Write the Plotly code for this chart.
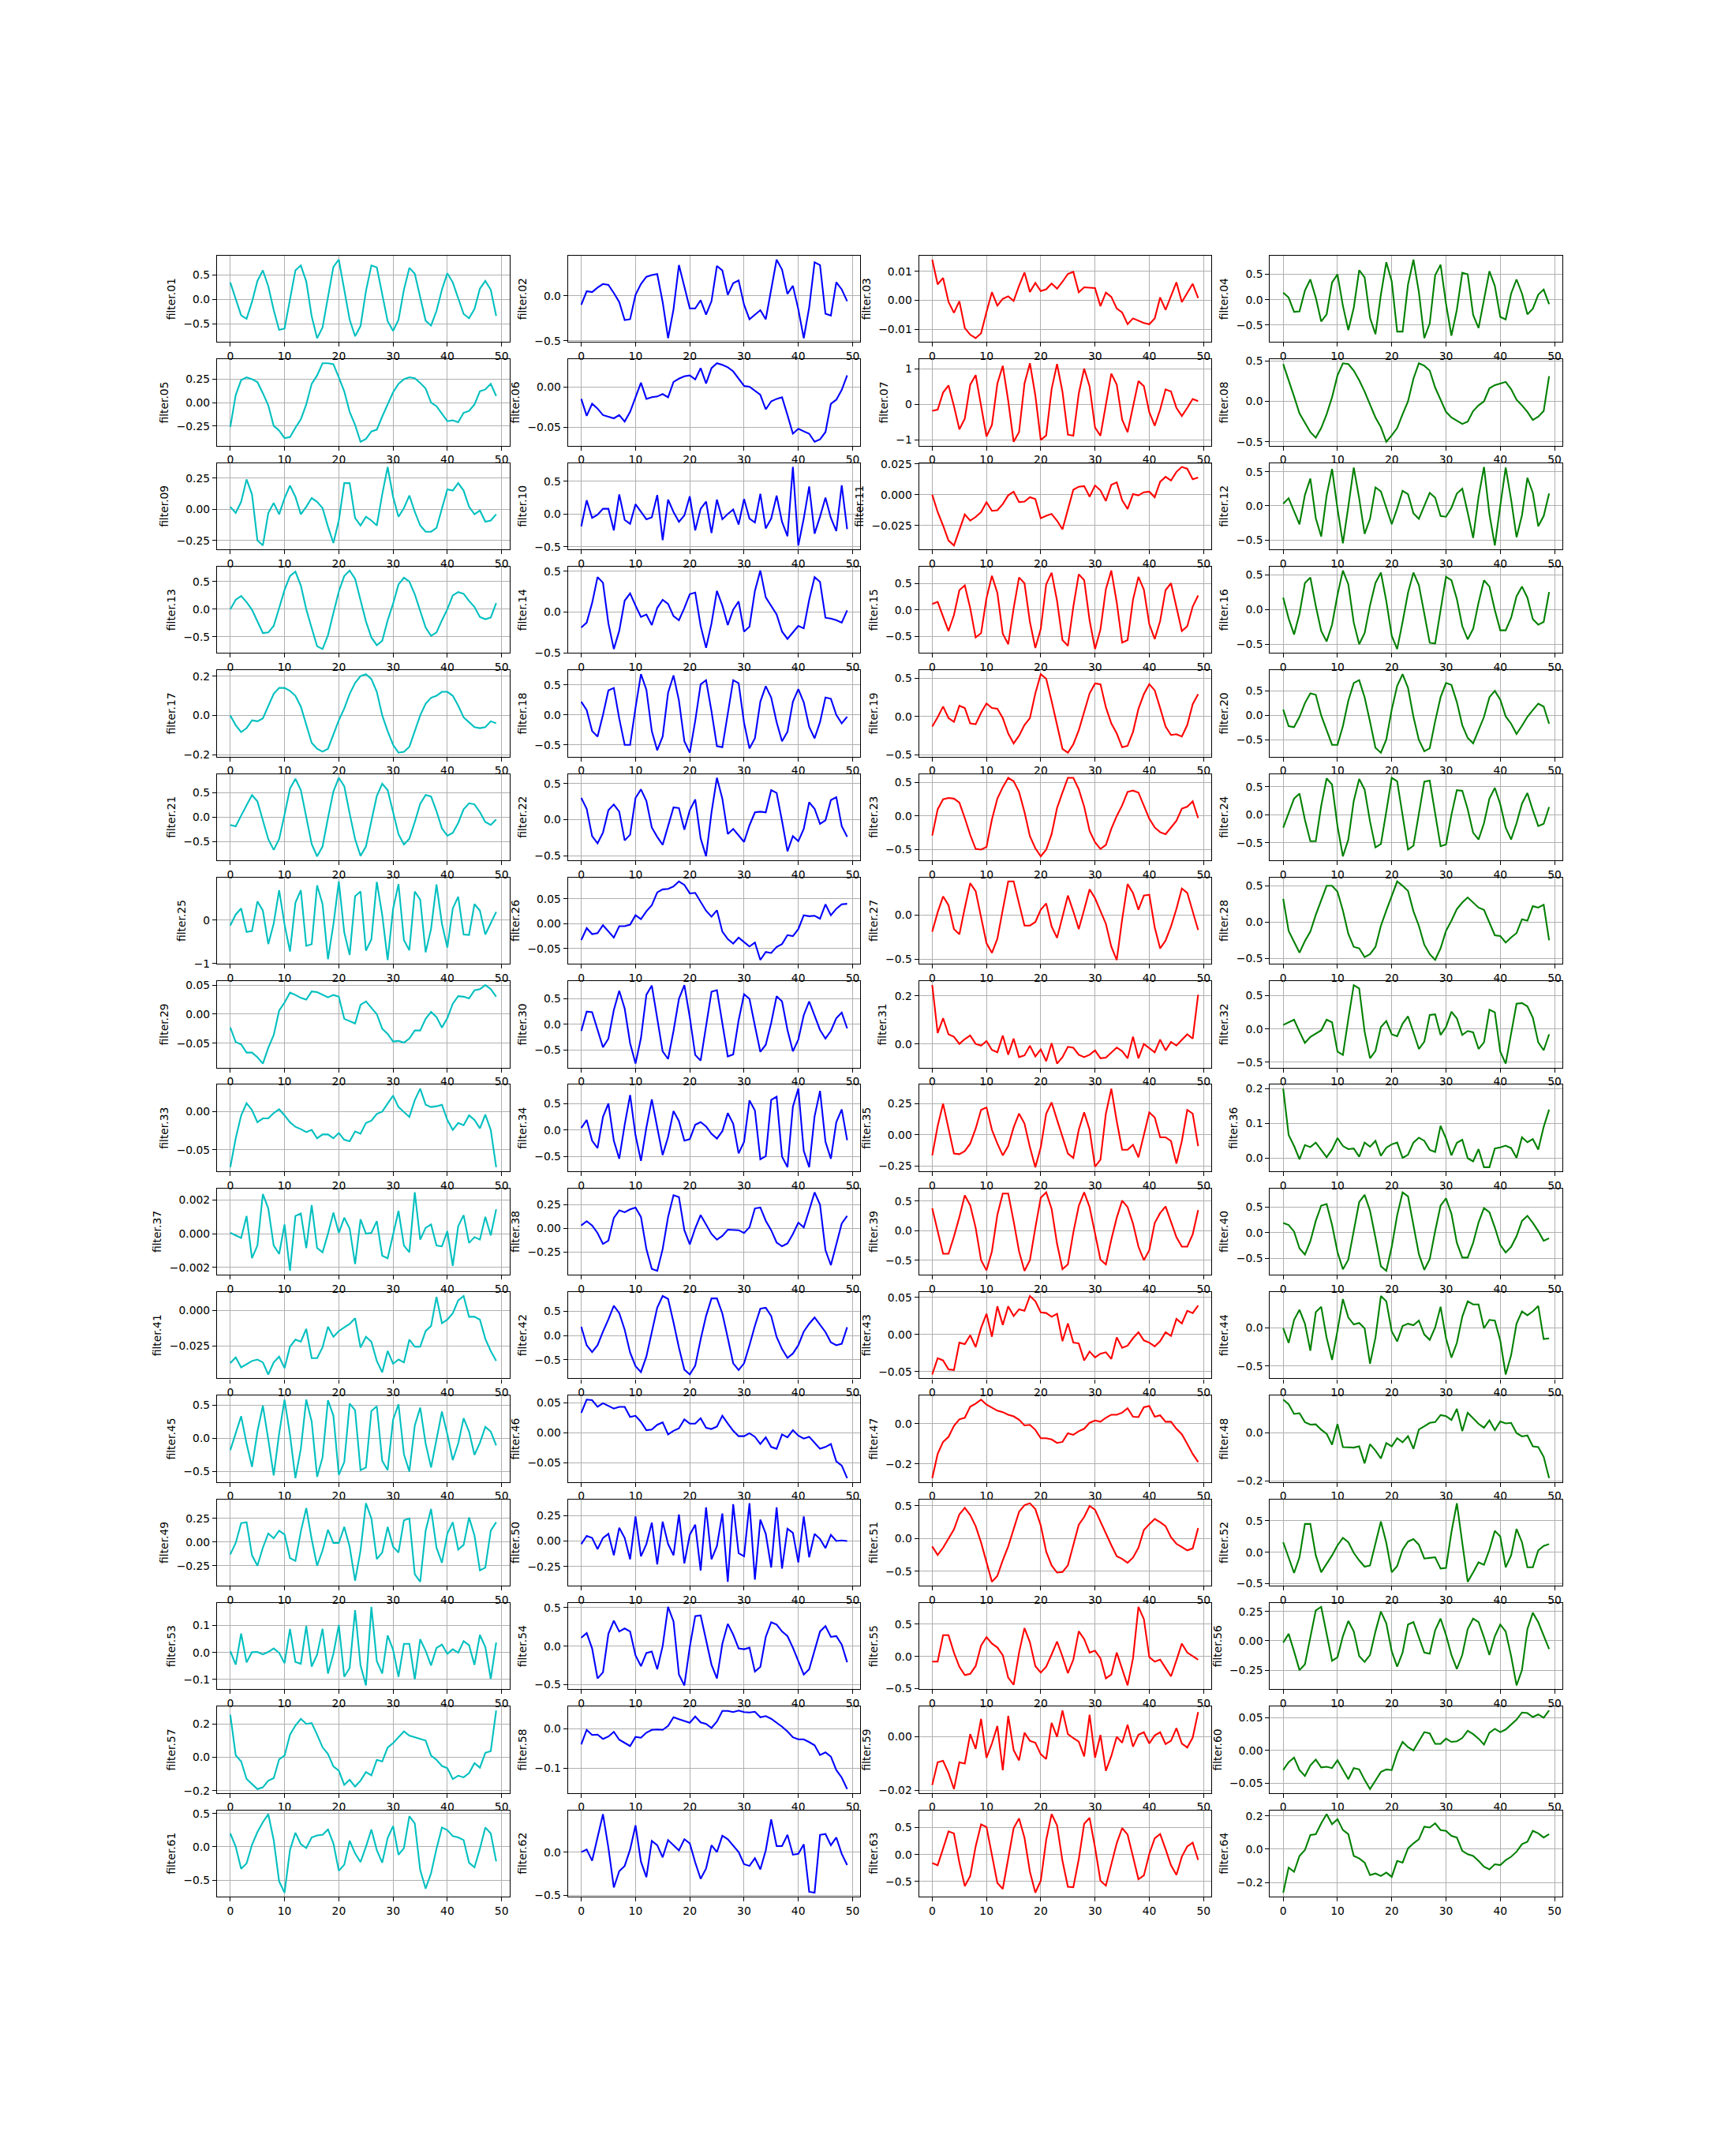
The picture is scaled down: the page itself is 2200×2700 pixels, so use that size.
import numpy as np
import plotly.graph_objects as go

# ---------------- data ----------------
f01 = [0.35, 0.0, -0.33, -0.4, -0.05, 0.38, 0.6, 0.27, -0.22, -0.63,
       -0.6, 0.0, 0.6, 0.7, 0.37, -0.35, -0.8, -0.58, 0.05, 0.67,
       0.82, 0.2, -0.42, -0.76, -0.55, 0.17, 0.7, 0.66, 0.1, -0.45,
       -0.65, -0.42, 0.2, 0.65, 0.53, 0.03, -0.44, -0.54, -0.24, 0.2,
       0.54, 0.35, 0.02, -0.3, -0.39, -0.2, 0.22, 0.38, 0.2, -0.34]
f02 = [-0.1, 0.05, 0.04, 0.09, 0.13, 0.12, 0.03, -0.07, -0.27, -0.26,
       0.01, 0.13, 0.21, 0.23, 0.24, -0.07, -0.47, -0.15, 0.34, 0.1,
       -0.14, -0.14, -0.05, -0.21, -0.06, 0.33, 0.28, 0.01, 0.14, 0.17,
       -0.1, -0.26, -0.21, -0.16, -0.26, 0.07, 0.4, 0.29, 0.02, 0.11,
       -0.15, -0.47, -0.13, 0.37, 0.34, -0.2, -0.22, 0.15, 0.07, -0.06]
f03 = [0.014, 0.0055, 0.0077, -0.0005, -0.0043, -0.0003, -0.0095, -0.0118, -0.013, -0.0113,
       -0.004, 0.0028, -0.0018, 0.0005, 0.0014, -0.0002, 0.005, 0.0096, 0.0029, 0.006,
       0.0032, 0.0038, 0.0058, 0.004, 0.0064, 0.0091, 0.0098, 0.0028, 0.0045, 0.0044,
       0.0042, -0.002, 0.0027, 0.0012, -0.0028, -0.0042, -0.0082, -0.0062, -0.0071, -0.0078,
       -0.0082, -0.0062, 0.001, -0.0033, 0.0015, 0.0062, -0.0006, 0.0025, 0.0057, 0.0008]
f04 = [0.14, 0.04, -0.24, -0.23, 0.18, 0.4, 0.04, -0.43, -0.29, 0.34,
       0.5, -0.12, -0.6, -0.16, 0.58, 0.44, -0.36, -0.68, 0.1, 0.74,
       0.36, -0.63, -0.63, 0.3, 0.79, 0.15, -0.76, -0.47, 0.48, 0.69,
       -0.08, -0.71, -0.2, 0.53, 0.5, -0.3, -0.56, 0.02, 0.56, 0.27,
       -0.34, -0.39, 0.12, 0.4, 0.12, -0.29, -0.18, 0.1, 0.2, -0.09]
f05 = [-0.26, 0.08, 0.24, 0.27, 0.25, 0.22, 0.1, -0.03, -0.25, -0.3,
       -0.38, -0.37, -0.27, -0.18, -0.02, 0.2, 0.29, 0.42, 0.42, 0.41,
       0.27, 0.12, -0.1, -0.24, -0.42, -0.39, -0.31, -0.29, -0.15, -0.02,
       0.11, 0.2, 0.25, 0.27, 0.26, 0.21, 0.15, 0.0, -0.04, -0.12,
       -0.2, -0.19, -0.21, -0.11, -0.09, -0.02, 0.12, 0.14, 0.2, 0.07]
f06 = [-0.015, -0.036, -0.021, -0.027, -0.035, -0.037, -0.039, -0.035, -0.043, -0.031,
       -0.012, 0.005, -0.015, -0.013, -0.012, -0.009, -0.013, 0.006, 0.01, 0.013,
       0.014, 0.009, 0.023, 0.004, 0.023, 0.029, 0.027, 0.024, 0.019, 0.01,
       0.001, 0.0, -0.005, -0.01, -0.028, -0.018, -0.015, -0.013, -0.035, -0.058,
       -0.052, -0.055, -0.058, -0.068, -0.065, -0.056, -0.021, -0.016, -0.004, 0.014]
f07 = [-0.18, -0.15, 0.33, 0.53, -0.05, -0.7, -0.4, 0.55, 0.82, 0.0,
       -0.9, -0.58, 0.58, 1.08, 0.1, -1.05, -0.78, 0.58, 1.15, 0.25,
       -1.0, -0.87, 0.43, 1.13, 0.35, -0.85, -0.88, 0.3, 1.0, 0.5,
       -0.65, -0.88, 0.0, 0.86, 0.55, -0.43, -0.78, -0.07, 0.65, 0.51,
       -0.22, -0.6, -0.15, 0.42, 0.36, -0.1, -0.33, -0.1, 0.15, 0.09]
f08 = [0.46, 0.27, 0.06, -0.15, -0.26, -0.38, -0.45, -0.33, -0.16, 0.05,
       0.32, 0.47, 0.46, 0.38, 0.26, 0.12, -0.04, -0.2, -0.32, -0.5,
       -0.42, -0.33, -0.16, 0.0, 0.28, 0.47, 0.44, 0.38, 0.17, 0.02,
       -0.13, -0.2, -0.24, -0.28, -0.25, -0.12, -0.05, 0.0, 0.16, 0.2,
       0.22, 0.24, 0.15, 0.02, -0.05, -0.13, -0.23, -0.19, -0.12, 0.31]
f09 = [0.02, -0.03, 0.06, 0.24, 0.12, -0.25, -0.29, -0.03, 0.05, -0.04,
       0.09, 0.19, 0.1, -0.04, 0.02, 0.09, 0.06, 0.01, -0.14, -0.27,
       -0.09, 0.21, 0.21, -0.07, -0.13, -0.06, -0.09, -0.13, 0.12, 0.34,
       0.1, -0.06, 0.01, 0.11, -0.02, -0.13, -0.18, -0.18, -0.15, 0.01,
       0.16, 0.15, 0.21, 0.15, 0.02, -0.04, -0.01, -0.1, -0.09, -0.04]
f10 = [-0.19, 0.21, -0.06, -0.01, 0.08, 0.08, -0.25, 0.3, -0.09, -0.15,
       0.15, 0.04, -0.08, -0.05, 0.29, -0.4, 0.22, 0.03, -0.12, -0.02,
       0.27, -0.25, 0.08, 0.19, -0.29, 0.22, -0.08, 0.0, 0.07, -0.16,
       0.23, -0.07, -0.13, 0.31, -0.22, -0.07, 0.28, -0.12, -0.34, 0.72,
       -0.48, -0.07, 0.42, -0.3, -0.04, 0.25, -0.06, -0.26, 0.44, -0.23]
f11 = [0.0, -0.014, -0.025, -0.037, -0.041, -0.029, -0.016, -0.021, -0.018, -0.014,
       -0.006, -0.013, -0.0125, -0.0075, -0.0005, 0.0025, -0.006, -0.0055, -0.002, -0.0035,
       -0.019, -0.017, -0.0155, -0.021, -0.028, -0.012, 0.004, 0.0065, 0.007, -0.0015,
       0.0075, 0.0035, -0.005, 0.008, 0.01, -0.0045, -0.0115, 0.0005, -0.0005, 0.002,
       0.0025, -0.002, 0.0105, 0.0145, 0.0115, 0.0185, 0.0225, 0.021, 0.0125, 0.014]
f12 = [0.03, 0.11, -0.08, -0.27, 0.16, 0.4, -0.18, -0.45, 0.15, 0.54,
       -0.04, -0.55, -0.01, 0.56, 0.11, -0.41, -0.19, 0.27, 0.21, -0.03,
       -0.27, -0.04, 0.22, 0.17, -0.11, -0.19, 0.0, 0.19, 0.12, -0.15,
       -0.16, -0.03, 0.18, 0.25, -0.1, -0.47, 0.13, 0.57, -0.12, -0.58,
       0.0, 0.56, 0.09, -0.46, -0.14, 0.41, 0.19, -0.3, -0.15, 0.18]
f13 = [0.0, 0.17, 0.24, 0.13, -0.01, -0.23, -0.43, -0.42, -0.3, 0.02,
       0.35, 0.6, 0.68, 0.43, 0.0, -0.34, -0.67, -0.72, -0.47, -0.07,
       0.32, 0.6, 0.7, 0.55, 0.17, -0.22, -0.51, -0.65, -0.57, -0.2,
       0.1, 0.45, 0.57, 0.5, 0.27, -0.02, -0.33, -0.48, -0.42, -0.2,
       0.0, 0.25, 0.31, 0.28, 0.15, 0.04, -0.14, -0.18, -0.15, 0.11]
f14 = [-0.19, -0.13, 0.11, 0.43, 0.36, -0.14, -0.455, -0.23, 0.14, 0.23,
       0.08, -0.06, -0.03, -0.16, 0.05, 0.15, 0.1, -0.05, -0.1, 0.05,
       0.22, 0.24, -0.17, -0.44, -0.14, 0.26, 0.08, -0.16, 0.03, 0.13,
       -0.24, -0.18, 0.26, 0.51, 0.18, 0.08, -0.03, -0.24, -0.33, -0.25,
       -0.17, -0.2, 0.15, 0.43, 0.37, -0.07, -0.08, -0.1, -0.13, 0.02]
f15 = [0.11, 0.15, -0.13, -0.4, -0.1, 0.37, 0.46, 0.03, -0.52, -0.44,
       0.22, 0.64, 0.32, -0.45, -0.65, 0.03, 0.61, 0.5, -0.23, -0.72,
       -0.36, 0.48, 0.7, 0.17, -0.57, -0.68, 0.06, 0.67, 0.56, -0.2,
       -0.74, -0.37, 0.39, 0.74, 0.14, -0.62, -0.57, 0.19, 0.62, 0.38,
       -0.27, -0.55, -0.21, 0.37, 0.5, 0.06, -0.4, -0.31, 0.06, 0.27]
f16 = [0.17, -0.13, -0.36, -0.06, 0.38, 0.46, 0.05, -0.31, -0.46, -0.22,
       0.21, 0.56, 0.36, -0.19, -0.5, -0.34, 0.06, 0.38, 0.53, 0.12,
       -0.38, -0.57, -0.18, 0.24, 0.53, 0.35, -0.06, -0.48, -0.49, 0.0,
       0.47, 0.42, 0.15, -0.24, -0.43, -0.28, 0.1, 0.42, 0.33, -0.01,
       -0.3, -0.3, -0.12, 0.19, 0.33, 0.17, -0.14, -0.22, -0.18, 0.25]
f17 = [0.0, -0.05, -0.085, -0.065, -0.025, -0.03, -0.015, 0.045, 0.11, 0.14,
       0.14, 0.125, 0.1, 0.045, -0.05, -0.14, -0.17, -0.185, -0.17, -0.1,
       -0.025, 0.035, 0.11, 0.165, 0.2, 0.21, 0.185, 0.12, 0.0, -0.08,
       -0.15, -0.19, -0.185, -0.16, -0.08, 0.0, 0.06, 0.09, 0.1, 0.12,
       0.12, 0.1, 0.05, -0.01, -0.035, -0.06, -0.065, -0.06, -0.03, -0.04]
f18 = [0.22, 0.08, -0.27, -0.36, 0.0, 0.41, 0.45, -0.06, -0.5, -0.5,
       0.12, 0.68, 0.42, -0.27, -0.59, -0.36, 0.37, 0.66, 0.24, -0.44,
       -0.63, -0.1, 0.51, 0.58, 0.06, -0.52, -0.54, 0.0, 0.58, 0.53,
       -0.13, -0.56, -0.39, 0.22, 0.48, 0.29, -0.12, -0.44, -0.28, 0.22,
       0.43, 0.21, -0.2, -0.39, -0.12, 0.29, 0.27, 0.0, -0.14, -0.03]
f19 = [-0.13, -0.01, 0.13, -0.02, -0.07, 0.14, 0.11, -0.09, -0.1, 0.05,
       0.17, 0.11, 0.1, -0.02, -0.22, -0.35, -0.25, -0.11, -0.02, 0.3,
       0.55, 0.49, 0.2, -0.11, -0.42, -0.47, -0.36, -0.18, 0.06, 0.3,
       0.43, 0.42, 0.12, -0.09, -0.22, -0.4, -0.38, -0.2, 0.1, 0.29,
       0.42, 0.34, 0.11, -0.13, -0.24, -0.23, -0.26, -0.11, 0.16, 0.29]
f20 = [0.12, -0.22, -0.24, -0.03, 0.25, 0.45, 0.42, 0.0, -0.3, -0.6,
       -0.6, -0.22, 0.3, 0.66, 0.72, 0.37, -0.13, -0.66, -0.76, -0.49,
       0.12, 0.6, 0.84, 0.56, -0.03, -0.5, -0.73, -0.67, -0.12, 0.37,
       0.66, 0.62, 0.27, -0.2, -0.46, -0.57, -0.3, -0.03, 0.37, 0.5,
       0.32, -0.02, -0.17, -0.38, -0.21, -0.03, 0.11, 0.24, 0.18, -0.17]
f21 = [-0.16, -0.19, 0.03, 0.25, 0.45, 0.32, -0.06, -0.45, -0.67, -0.45,
       0.05, 0.58, 0.78, 0.55, 0.0, -0.55, -0.8, -0.6, -0.02, 0.52,
       0.8, 0.63, 0.07, -0.45, -0.79, -0.6, -0.08, 0.43, 0.68, 0.55,
       0.1, -0.35, -0.56, -0.44, -0.1, 0.27, 0.45, 0.42, 0.12, -0.23,
       -0.38, -0.32, -0.12, 0.16, 0.28, 0.26, 0.1, -0.1, -0.16, -0.05]
f22 = [0.3, 0.15, -0.23, -0.33, -0.18, 0.13, 0.21, 0.11, -0.29, -0.21,
       0.3, 0.42, 0.26, -0.11, -0.24, -0.35, -0.09, 0.17, 0.16, -0.14,
       0.13, 0.28, -0.26, -0.51, 0.1, 0.58, 0.29, -0.2, -0.13, -0.22,
       -0.31, -0.08, 0.1, 0.11, 0.1, 0.41, 0.37, -0.02, -0.44, -0.23,
       -0.3, -0.13, 0.24, 0.15, -0.06, -0.01, 0.27, 0.31, -0.09, -0.24]
f23 = [-0.29, 0.1, 0.25, 0.27, 0.26, 0.2, -0.03, -0.28, -0.49, -0.5,
       -0.46, -0.05, 0.26, 0.43, 0.57, 0.52, 0.36, 0.06, -0.3, -0.48,
       -0.6, -0.5, -0.27, 0.12, 0.35, 0.57, 0.57, 0.4, 0.14, -0.22,
       -0.39, -0.49, -0.43, -0.19, 0.0, 0.16, 0.36, 0.38, 0.35, 0.15,
       -0.04, -0.17, -0.24, -0.27, -0.17, -0.07, 0.11, 0.14, 0.22, -0.03]
f24 = [-0.23, 0.02, 0.29, 0.38, -0.09, -0.47, -0.47, 0.16, 0.65, 0.54,
       -0.2, -0.74, -0.44, 0.25, 0.64, 0.45, -0.12, -0.58, -0.52, 0.06,
       0.66, 0.6, -0.04, -0.62, -0.55, 0.0, 0.59, 0.61, 0.0, -0.56,
       -0.53, 0.0, 0.44, 0.43, 0.1, -0.32, -0.44, -0.15, 0.29, 0.48,
       0.19, -0.23, -0.44, -0.15, 0.2, 0.39, 0.08, -0.2, -0.16, 0.14]
f25 = [-0.12, 0.13, 0.27, -0.27, -0.25, 0.43, 0.22, -0.55, -0.08, 0.69,
       -0.1, -0.72, 0.4, 0.69, -0.59, -0.55, 0.8, 0.37, -0.9, -0.1,
       0.89, -0.28, -0.8, 0.55, 0.66, -0.7, -0.44, 0.88, 0.12, -0.915,
       0.26, 0.83, -0.46, -0.69, 0.66, 0.47, -0.74, -0.2, 0.82, -0.08,
       -0.63, 0.27, 0.54, -0.33, -0.34, 0.37, 0.22, -0.33, -0.07, 0.19]
f26 = [-0.033, -0.009, -0.021, -0.019, -0.003, -0.015, -0.028, -0.005, -0.005, -0.002,
       0.017, 0.009, 0.025, 0.037, 0.063, 0.069, 0.07, 0.075, 0.085, 0.078,
       0.061, 0.062, 0.045, 0.026, 0.014, 0.027, -0.016, -0.031, -0.04, -0.028,
       -0.037, -0.046, -0.038, -0.073, -0.057, -0.059, -0.047, -0.041, -0.023, -0.025,
       -0.011, 0.017, 0.015, 0.016, 0.01, 0.039, 0.017, 0.03, 0.039, 0.04]
f27 = [-0.19, 0.03, 0.21, 0.11, -0.16, -0.22, 0.08, 0.36, 0.27, -0.04,
       -0.32, -0.43, -0.27, 0.06, 0.38, 0.38, 0.13, -0.12, -0.12, -0.08,
       0.06, 0.13, -0.13, -0.26, -0.02, 0.22, 0.04, -0.16, 0.06, 0.29,
       0.19, 0.05, -0.1, -0.36, -0.51, -0.05, 0.35, 0.25, 0.06, 0.22,
       0.23, -0.14, -0.38, -0.29, -0.13, 0.07, 0.3, 0.25, 0.05, -0.17]
f28 = [0.32, -0.12, -0.27, -0.42, -0.26, -0.13, 0.1, 0.31, 0.5, 0.5,
       0.42, 0.16, -0.16, -0.34, -0.36, -0.48, -0.44, -0.34, -0.05, 0.16,
       0.35, 0.56, 0.5, 0.43, 0.15, -0.05, -0.31, -0.44, -0.52, -0.36,
       -0.12, 0.02, 0.18, 0.27, 0.34, 0.27, 0.2, 0.17, 0.0, -0.18,
       -0.19, -0.28, -0.21, -0.15, 0.04, 0.02, 0.22, 0.2, 0.24, -0.25]
f29 = [-0.023, -0.048, -0.052, -0.066, -0.066, -0.074, -0.085, -0.058, -0.036, 0.006,
       0.02, 0.037, 0.033, 0.028, 0.025, 0.039, 0.038, 0.033, 0.029, 0.033,
       0.03, -0.008, -0.012, -0.016, 0.016, 0.022, 0.011, 0.0, -0.025, -0.034,
       -0.047, -0.046, -0.049, -0.042, -0.028, -0.028, -0.008, 0.004, -0.005, -0.023,
       -0.007, 0.018, 0.031, 0.03, 0.027, 0.041, 0.043, 0.05, 0.043, 0.03]
f30 = [-0.13, 0.25, 0.24, -0.1, -0.45, -0.28, 0.28, 0.66, 0.31, -0.37,
       -0.77, -0.27, 0.58, 0.76, 0.12, -0.53, -0.68, -0.13, 0.5, 0.77,
       0.14, -0.6, -0.71, -0.05, 0.64, 0.67, -0.01, -0.63, -0.59, 0.08,
       0.59, 0.5, -0.03, -0.54, -0.4, 0.03, 0.55, 0.45, -0.11, -0.53,
       -0.3, 0.18, 0.45, 0.18, -0.11, -0.28, -0.13, 0.12, 0.23, -0.08]
f31 = [0.245, 0.045, 0.107, 0.04, 0.03, 0.0, 0.02, 0.035, 0.0, -0.007,
       0.012, -0.025, -0.035, 0.035, -0.045, 0.022, -0.055, -0.048, -0.008, -0.052,
       -0.023, -0.072, 0.003, -0.082, -0.055, -0.012, -0.016, -0.045, -0.055, -0.045,
       -0.027, -0.06, -0.057, -0.037, -0.015, -0.03, -0.06, 0.03, -0.06, 0.0,
       -0.018, -0.035, 0.018, -0.027, 0.008, -0.007, 0.017, 0.04, 0.022, 0.205]
f32 = [0.06, 0.1, 0.14, -0.04, -0.21, -0.12, -0.07, -0.02, 0.14, 0.1,
       -0.34, -0.39, 0.15, 0.66, 0.61, -0.04, -0.44, -0.33, 0.03, 0.12,
       -0.08, -0.11, 0.08, 0.19, -0.05, -0.3, -0.19, 0.21, 0.22, -0.09,
       0.03, 0.26, 0.16, -0.09, -0.03, -0.05, -0.3, -0.2, 0.29, 0.25,
       -0.34, -0.52, -0.07, 0.38, 0.39, 0.34, 0.17, -0.2, -0.32, -0.08]
f33 = [-0.073, -0.035, -0.005, 0.011, 0.002, -0.014, -0.009, -0.009, -0.002, 0.003,
       -0.005, -0.014, -0.02, -0.023, -0.027, -0.024, -0.035, -0.03, -0.03, -0.035,
       -0.028, -0.037, -0.039, -0.026, -0.029, -0.015, -0.012, -0.003, 0.0, 0.011,
       0.021, 0.006, 0.0, -0.007, 0.015, 0.03, 0.009, 0.006, 0.007, 0.009,
       -0.011, -0.024, -0.015, -0.018, -0.005, -0.011, -0.022, -0.004, -0.024, -0.073]
f34 = [0.04, 0.19, -0.2, -0.34, 0.25, 0.5, -0.2, -0.54, 0.1, 0.66,
       -0.1, -0.58, 0.05, 0.58, 0.05, -0.47, -0.13, 0.36, 0.17, -0.2,
       -0.17, 0.1, 0.15, 0.07, -0.07, -0.16, -0.02, 0.32, 0.12, -0.44,
       -0.22, 0.56, 0.37, -0.55, -0.49, 0.57, 0.63, -0.5, -0.7, 0.44,
       0.78, -0.39, -0.7, 0.26, 0.74, -0.22, -0.54, 0.15, 0.39, -0.19]
f35 = [-0.165, 0.07, 0.25, 0.06, -0.15, -0.155, -0.13, -0.07, 0.05, 0.2,
       0.22, 0.04, -0.07, -0.165, -0.09, 0.06, 0.17, 0.09, -0.1, -0.26,
       -0.1, 0.17, 0.26, 0.12, -0.02, -0.15, -0.185, 0.04, 0.18, 0.04,
       -0.255, -0.2, 0.17, 0.37, 0.11, -0.12, -0.12, -0.08, -0.18, 0.0,
       0.18, 0.14, -0.02, -0.02, -0.05, -0.23, -0.05, 0.2, 0.17, -0.09]
f36 = [0.2, 0.067, 0.035, -0.003, 0.038, 0.032, 0.045, 0.025, 0.003, 0.025,
       0.058, 0.035, 0.026, 0.028, 0.004, 0.045, 0.033, 0.05, 0.007, 0.03,
       0.04, 0.045, 0.001, 0.01, 0.045, 0.059, 0.05, 0.024, 0.018, 0.093,
       0.057, 0.008, 0.044, 0.053, 0.0, -0.009, 0.026, -0.026, -0.026, 0.028,
       0.031, 0.036, 0.029, 0.001, 0.06, 0.046, 0.055, 0.025, 0.09, 0.14]
f37 = [0.00005, -0.0001, -0.00025, 0.00105, -0.00145, -0.0007, 0.00235, 0.0015, -0.0007, -0.0012,
       0.00055, -0.0022, 0.00105, 0.0012, -0.00085, 0.0017, -0.00085, -0.0011, 0.0, 0.00125,
       0.00005, 0.00095, 0.0003, -0.0018, 0.00085, 0.0, 0.00005, 0.00075, -0.0013, -0.00145,
       0.0, 0.00135, -0.0007, -0.0011, 0.00245, -0.00035, 0.00035, 0.00055, -0.0007, -0.00075,
       0.00015, -0.0019, 0.00045, 0.0011, -0.00055, -0.0002, -0.00035, 0.001, -0.0001, 0.00145]
f38 = [0.03, 0.075, 0.03, -0.05, -0.165, -0.13, 0.11, 0.19, 0.17, 0.2,
       0.22, 0.12, -0.22, -0.43, -0.45, -0.22, 0.12, 0.35, 0.33, -0.02,
       -0.17, 0.0, 0.14, 0.04, -0.06, -0.12, -0.08, -0.015, -0.015, -0.02,
       -0.05, 0.01, 0.21, 0.22, 0.08, -0.02, -0.15, -0.19, -0.16, -0.06,
       0.06, 0.01, 0.19, 0.38, 0.25, -0.23, -0.39, -0.16, 0.05, 0.13]
f39 = [0.38, 0.0, -0.39, -0.39, -0.1, 0.23, 0.6, 0.43, 0.05, -0.5,
       -0.67, -0.35, 0.27, 0.63, 0.63, 0.16, -0.35, -0.68, -0.5, 0.05,
       0.56, 0.65, 0.37, -0.22, -0.65, -0.57, -0.03, 0.42, 0.65, 0.4,
       -0.05, -0.49, -0.57, -0.15, 0.22, 0.51, 0.4, 0.12, -0.27, -0.5,
       -0.33, 0.13, 0.3, 0.41, 0.15, -0.11, -0.27, -0.27, -0.06, 0.35]
f40 = [0.19, 0.15, 0.02, -0.31, -0.43, -0.17, 0.23, 0.53, 0.56, 0.15,
       -0.38, -0.72, -0.53, 0.05, 0.6, 0.74, 0.43, -0.1, -0.66, -0.75,
       -0.28, 0.34, 0.79, 0.71, 0.15, -0.42, -0.73, -0.52, 0.03, 0.53,
       0.67, 0.37, -0.2, -0.49, -0.49, -0.2, 0.2, 0.48, 0.4, 0.1,
       -0.24, -0.39, -0.28, -0.07, 0.23, 0.33, 0.19, 0.03, -0.16, -0.11]
f41 = [-0.037, -0.033, -0.04, -0.0375, -0.0355, -0.0345, -0.0365, -0.045, -0.0365, -0.0325,
       -0.0405, -0.0255, -0.0205, -0.022, -0.013, -0.0335, -0.0335, -0.026, -0.0115, -0.0185,
       -0.0145, -0.012, -0.0095, -0.0055, -0.026, -0.0185, -0.022, -0.0355, -0.0435, -0.0285,
       -0.0375, -0.0345, -0.0365, -0.0205, -0.0255, -0.0255, -0.0145, -0.011, 0.0095, -0.009,
       -0.0065, -0.002, 0.007, 0.0101, -0.0045, -0.0045, -0.0065, -0.02, -0.0285, -0.0355]
f42 = [0.18, -0.2, -0.34, -0.2, 0.08, 0.33, 0.61, 0.46, 0.12, -0.35,
       -0.63, -0.75, -0.43, 0.07, 0.57, 0.81, 0.75, 0.27, -0.25, -0.7,
       -0.8, -0.62, -0.08, 0.4, 0.76, 0.76, 0.45, -0.05, -0.57, -0.71,
       -0.57, -0.2, 0.2, 0.55, 0.57, 0.4, -0.03, -0.28, -0.46, -0.37,
       -0.2, 0.08, 0.24, 0.37, 0.22, 0.07, -0.14, -0.2, -0.17, 0.17]
f43 = [-0.054, -0.032, -0.035, -0.047, -0.048, -0.011, -0.013, -0.001, -0.017, 0.009,
       0.028, -0.003, 0.038, 0.013, 0.038, 0.025, 0.034, 0.032, 0.052, 0.045,
       0.03, 0.029, 0.024, 0.028, -0.009, 0.015, -0.011, -0.012, -0.035, -0.023,
       -0.031, -0.026, -0.024, -0.033, -0.004, -0.018, -0.015, -0.005, 0.003, -0.008,
       -0.011, -0.016, -0.009, 0.003, -0.002, 0.021, 0.015, 0.032, 0.029, 0.039]
f44 = [-0.01, -0.2, 0.1, 0.23, 0.05, -0.3, 0.2, 0.27, -0.13, -0.42,
       -0.04, 0.37, 0.13, 0.04, 0.06, -0.01, -0.47, -0.13, 0.41, 0.34,
       -0.05, -0.18, 0.02, 0.05, 0.03, 0.09, -0.09, -0.16, 0.0, 0.27,
       -0.14, -0.39, -0.2, 0.14, 0.34, 0.3, 0.3, -0.01, 0.1, 0.09,
       -0.17, -0.61, -0.36, 0.05, 0.21, 0.16, 0.21, 0.28, -0.15, -0.14]
f45 = [-0.18, 0.08, 0.33, -0.08, -0.43, 0.1, 0.49, -0.02, -0.56, 0.07,
       0.58, 0.05, -0.6, -0.16, 0.58, 0.25, -0.58, -0.29, 0.57, 0.34,
       -0.55, -0.36, 0.52, 0.42, -0.48, -0.44, 0.41, 0.48, -0.34, -0.48,
       0.28, 0.51, -0.24, -0.5, 0.19, 0.46, -0.08, -0.44, 0.0, 0.4,
       0.06, -0.33, -0.08, 0.3, 0.1, -0.25, -0.07, 0.17, 0.1, -0.11]
f46 = [0.033, 0.055, 0.054, 0.043, 0.049, 0.045, 0.04, 0.043, 0.043, 0.026,
       0.028, 0.018, 0.004, 0.005, 0.013, 0.017, -0.003, 0.003, 0.007, 0.022,
       0.015, 0.015, 0.024, 0.008, 0.006, 0.01, 0.028, 0.015, 0.003, -0.006,
       -0.006, -0.001, -0.007, -0.019, -0.008, -0.024, -0.027, -0.003, -0.008, 0.004,
       -0.005, -0.01, -0.007, -0.017, -0.027, -0.024, -0.019, -0.048, -0.055, -0.076]
f47 = [-0.27, -0.15, -0.09, -0.065, -0.01, 0.022, 0.03, 0.085, 0.1, 0.12,
       0.095, 0.08, 0.065, 0.058, 0.045, 0.037, 0.02, -0.008, -0.005, -0.03,
       -0.072, -0.072, -0.078, -0.095, -0.09, -0.047, -0.055, -0.037, -0.025, 0.005,
       0.016, 0.01, 0.03, 0.045, 0.045, 0.055, 0.077, 0.035, 0.033, 0.082,
       0.088, 0.035, 0.042, 0.01, 0.01, -0.025, -0.052, -0.1, -0.15, -0.19]
f48 = [0.136, 0.117, 0.077, 0.08, 0.043, 0.033, 0.034, 0.012, -0.005, -0.05,
       0.035, -0.06, -0.061, -0.062, -0.057, -0.127, -0.048, -0.074, -0.107, -0.043,
       -0.057, -0.023, -0.04, -0.015, -0.067, 0.013, 0.026, 0.04, 0.043, 0.072,
       0.068, 0.052, 0.098, 0.006, 0.082, 0.058, 0.036, 0.02, 0.05, 0.01,
       0.046, 0.038, 0.04, -0.002, -0.016, -0.012, -0.057, -0.06, -0.1, -0.188]
f49 = [-0.13, -0.01, 0.2, 0.21, -0.14, -0.25, -0.06, 0.09, 0.04, 0.12,
       0.08, -0.17, -0.2, 0.11, 0.36, 0.03, -0.25, -0.09, 0.13, -0.01,
       -0.01, 0.16, -0.05, -0.41, -0.09, 0.41, 0.25, -0.18, -0.11, 0.16,
       -0.05, -0.11, 0.23, 0.25, -0.34, -0.42, 0.12, 0.35, -0.06, -0.22,
       0.09, 0.21, -0.08, -0.03, 0.26, 0.07, -0.3, -0.27, 0.12, 0.21]
f50 = [-0.03, 0.05, 0.03, -0.08, 0.03, 0.07, -0.14, 0.13, 0.03, -0.18,
       0.24, -0.15, -0.03, 0.18, -0.23, 0.19, -0.03, -0.14, 0.26, -0.22,
       0.06, 0.16, -0.29, 0.33, -0.18, -0.05, 0.27, -0.4, 0.36, -0.12,
       -0.15, 0.37, -0.38, 0.21, 0.07, -0.26, 0.33, -0.27, 0.12, 0.08,
       -0.21, 0.24, -0.16, 0.07, 0.02, -0.07, 0.06, 0.0, 0.005, 0.0]
f51 = [-0.12, -0.25, -0.14, 0.0, 0.14, 0.37, 0.47, 0.36, 0.19, -0.06,
       -0.35, -0.66, -0.57, -0.33, -0.12, 0.15, 0.41, 0.51, 0.54, 0.45,
       0.2, -0.2, -0.41, -0.52, -0.51, -0.41, -0.1, 0.21, 0.33, 0.5,
       0.44, 0.26, 0.06, -0.1, -0.27, -0.31, -0.37, -0.29, -0.14, 0.13,
       0.22, 0.3, 0.25, 0.19, 0.02, -0.08, -0.13, -0.18, -0.15, 0.16]
f52 = [0.16, -0.09, -0.33, -0.08, 0.45, 0.45, -0.05, -0.32, -0.19, -0.05,
       0.11, 0.23, 0.16, -0.01, -0.13, -0.23, -0.21, 0.13, 0.49, 0.15,
       -0.32, -0.22, 0.04, 0.17, 0.21, 0.12, -0.1, -0.09, -0.08, -0.26,
       -0.25, 0.32, 0.78, 0.15, -0.47, -0.32, -0.16, -0.2, 0.04, 0.34,
       0.25, -0.24, -0.05, 0.37, 0.16, -0.24, -0.24, 0.03, 0.1, 0.13]
f53 = [0.005, -0.045, 0.07, -0.037, 0.001, 0.002, -0.007, 0.002, 0.015, -0.001,
       -0.04, 0.087, -0.035, -0.042, 0.098, -0.052, -0.008, 0.088, -0.078, -0.005,
       0.102, -0.09, -0.057, 0.157, -0.048, -0.122, 0.169, -0.032, -0.078, 0.063,
       0.01, -0.09, 0.032, 0.032, -0.1, 0.049, 0.006, -0.048, 0.017, 0.029,
       -0.005, 0.012, -0.001, 0.042, 0.027, -0.046, 0.065, 0.02, -0.098, 0.037]
f54 = [0.11, 0.17, -0.03, -0.42, -0.34, 0.16, 0.33, 0.19, 0.23, 0.19,
       -0.12, -0.26, -0.09, -0.07, -0.3, 0.0, 0.51, 0.32, -0.37, -0.51,
       -0.01, 0.39, 0.4, 0.08, -0.24, -0.42, 0.03, 0.29, 0.15, -0.03,
       -0.04, -0.02, -0.33, -0.27, 0.12, 0.31, 0.28, 0.19, 0.13, -0.02,
       -0.2, -0.37, -0.3, -0.05, 0.19, 0.26, 0.12, 0.13, 0.02, -0.21]
f55 = [-0.08, -0.08, 0.33, 0.33, 0.06, -0.16, -0.29, -0.27, -0.15, 0.17,
       0.3, 0.2, 0.14, 0.02, -0.33, -0.44, 0.06, 0.44, 0.22, -0.15,
       -0.25, -0.16, 0.03, 0.23, 0.0, -0.26, -0.05, 0.39, 0.27, 0.06,
       0.09, -0.03, -0.34, -0.28, 0.06, -0.19, -0.45, -0.03, 0.77, 0.58,
       -0.01, -0.08, -0.05, -0.18, -0.31, -0.06, 0.2, 0.06, 0.0, -0.05]
f56 = [-0.015, 0.06, -0.09, -0.25, -0.2, 0.03, 0.26, 0.29, 0.06, -0.17,
       -0.14, 0.04, 0.17, 0.08, -0.13, -0.18, -0.12, 0.08, 0.25, 0.15,
       -0.09, -0.22, -0.1, 0.14, 0.16, 0.03, -0.1, -0.11, 0.09, 0.19,
       0.05, -0.12, -0.24, -0.12, 0.1, 0.19, 0.16, 0.03, -0.12, 0.04,
       0.14, 0.08, -0.13, -0.38, -0.25, 0.1, 0.24, 0.16, 0.05, -0.07]
f57 = [0.255, 0.012, -0.025, -0.13, -0.16, -0.19, -0.18, -0.14, -0.125, -0.012,
       0.01, 0.135, 0.19, 0.23, 0.2, 0.205, 0.135, 0.06, 0.02, -0.055,
       -0.08, -0.165, -0.135, -0.175, -0.14, -0.088, -0.108, -0.015, -0.025, 0.058,
       0.085, 0.12, 0.155, 0.13, 0.12, 0.11, 0.1, 0.01, -0.015, -0.052,
       -0.065, -0.13, -0.11, -0.12, -0.095, -0.035, -0.062, 0.027, 0.037, 0.28]
f58 = [-0.04, -0.003, -0.016, -0.015, -0.026, -0.02, -0.008, -0.028, -0.036, -0.044,
       -0.021, -0.023, -0.01, -0.003, -0.002, -0.003, 0.007, 0.029, 0.024, 0.019,
       0.015, 0.031, 0.016, 0.012, 0.002, 0.018, 0.045, 0.045, 0.042, 0.046,
       0.042, 0.041, 0.043, 0.029, 0.032, 0.025, 0.015, 0.005, -0.007, -0.022,
       -0.027, -0.027, -0.034, -0.042, -0.067, -0.06, -0.071, -0.105, -0.124, -0.153]
f59 = [-0.018, -0.0095, -0.009, -0.0135, -0.0195, -0.0095, -0.01, 0.001, -0.0045, 0.0067,
       -0.0078, -0.0025, 0.004, -0.0125, 0.0078, -0.005, -0.0088, 0.0015, -0.0015, -0.0022,
       -0.0065, -0.0083, 0.0052, 0.0, 0.0098, 0.001, -0.0005, -0.0018, -0.0073, 0.0082,
       -0.0078, 0.0007, -0.0127, -0.0072, 0.0, -0.0022, 0.0045, -0.0037, 0.0007, 0.0017,
       -0.0025, 0.0005, 0.0017, -0.0027, -0.0015, 0.0032, -0.0025, -0.004, -0.0003, 0.0092]
f60 = [-0.03, -0.018, -0.011, -0.03, -0.039, -0.023, -0.014, -0.026, -0.025, -0.027,
       -0.015, -0.029, -0.044, -0.027, -0.029, -0.045, -0.059, -0.046, -0.033, -0.029,
       -0.03, -0.004, 0.013, 0.005, 0.0, 0.014, 0.028, 0.026, 0.01, 0.01,
       0.018, 0.013, 0.014, 0.019, 0.03, 0.025, 0.018, 0.009, 0.027, 0.033,
       0.028, 0.032, 0.04, 0.047, 0.058, 0.057, 0.051, 0.055, 0.05, 0.061]
f61 = [0.2, 0.0, -0.33, -0.25, 0.03, 0.22, 0.37, 0.49, 0.1, -0.52,
       -0.69, -0.05, 0.21, 0.04, -0.02, 0.14, 0.17, 0.18, 0.26, 0.05,
       -0.36, -0.27, 0.09, -0.1, -0.23, 0.0, 0.26, -0.05, -0.24, 0.13,
       0.31, -0.12, -0.02, 0.46, 0.35, -0.35, -0.63, -0.4, -0.03, 0.29,
       0.25, 0.16, 0.14, 0.1, -0.24, -0.31, -0.03, 0.29, 0.2, -0.22]
f62 = [0.0, 0.03, -0.1, 0.17, 0.44, 0.05, -0.41, -0.22, -0.16, 0.03,
       0.31, -0.11, -0.29, 0.13, 0.08, -0.06, 0.14, 0.08, 0.02, 0.15,
       0.1, -0.12, -0.31, -0.19, 0.08, 0.0, 0.19, 0.15, 0.07, 0.0,
       -0.14, -0.16, -0.07, -0.2, 0.02, 0.38, 0.07, 0.07, 0.2, -0.03,
       -0.02, 0.09, -0.46, -0.47, 0.2, 0.21, 0.08, 0.17, -0.02, -0.15]
f63 = [-0.16, -0.2, 0.11, 0.43, 0.39, -0.15, -0.59, -0.4, 0.15, 0.56,
       0.51, 0.0, -0.53, -0.64, -0.1, 0.49, 0.67, 0.31, -0.32, -0.71,
       -0.49, 0.27, 0.75, 0.54, -0.12, -0.6, -0.61, -0.09, 0.57, 0.68,
       0.13, -0.49, -0.58, -0.2, 0.21, 0.49, 0.37, -0.04, -0.46, -0.39,
       0.01, 0.3, 0.38, 0.1, -0.2, -0.38, -0.04, 0.15, 0.22, -0.1]
f64 = [-0.26, -0.11, -0.135, -0.04, -0.005, 0.085, 0.09, 0.155, 0.21, 0.15,
       0.18, 0.115, 0.09, -0.04, -0.055, -0.08, -0.155, -0.145, -0.16, -0.14,
       -0.165, -0.07, -0.08, 0.005, 0.035, 0.06, 0.135, 0.13, 0.155, 0.115,
       0.11, 0.08, 0.07, -0.01, -0.03, -0.04, -0.07, -0.105, -0.12, -0.09,
       -0.095, -0.065, -0.045, -0.015, 0.03, 0.045, 0.11, 0.095, 0.07, 0.09]

series = [f01, f02, f03, f04, f05, f06, f07, f08, f09, f10, f11, f12, f13, f14, f15, f16,
          f17, f18, f19, f20, f21, f22, f23, f24, f25, f26, f27, f28, f29, f30, f31, f32,
          f33, f34, f35, f36, f37, f38, f39, f40, f41, f42, f43, f44, f45, f46, f47, f48,
          f49, f50, f51, f52, f53, f54, f55, f56, f57, f58, f59, f60, f61, f62, f63, f64]
labels = ["filter.%02d" % (i + 1) for i in range(len(series))]
column_colors = ["#00bfbf", "#0000ff", "#ff0000", "#008000"]  # c, b, r, g

# ---------------- layout (matplotlib subplot defaults) ----------------
W, H = 2200, 2700
NROWS, NCOLS = 16, 4
LEFT, RIGHT, BOTTOM, TOP = 0.125, 0.9, 0.11, 0.88
WSPACE = HSPACE = 0.2
AXW = (RIGHT - LEFT) / (NCOLS + (NCOLS - 1) * WSPACE)
AXH = (TOP - BOTTOM) / (NROWS + (NROWS - 1) * HSPACE)
FONT = "DejaVu Sans"
FS = 13.89  # 10 pt at 100 dpi


def mpl_ticks(vmin, vmax, nbins):
    steps = np.array([1, 2, 2.5, 5, 10])
    ext = np.concatenate([0.1 * steps[:-1], steps, [10 * steps[1]]])
    dv = vmax - vmin
    scale = 10 ** np.floor(np.log10(dv / nbins))
    ss = ext * scale
    raw = dv / nbins
    istep = np.nonzero(ss >= raw)[0][0]
    ticks = None
    for step in ss[:istep + 1][::-1]:
        best = (vmin // step) * step
        d, m = divmod(vmin - best, step)
        low = d + 1 if abs(m / step - 1) < 1e-10 else d
        d, m = divmod(vmax - best, step)
        high = d if abs(m / step) < 1e-10 else d + 1
        ticks = np.arange(low, high + 1) * step + best
        n = ((ticks <= vmax) & (ticks >= vmin)).sum()
        if n >= 2:
            break
    return ticks


def mpl_format(ticks):
    locs = np.asarray(ticks, dtype=float)
    rng = np.ptp(locs) or 1.0
    oom = int(np.floor(np.log10(rng)))
    sig = max(0, 3 - oom)
    thresh = 1e-3 * 10 ** oom
    while sig >= 0:
        if np.abs(locs - np.round(locs, sig)).max() < thresh:
            sig -= 1
        else:
            break
    sig += 1
    out = []
    for t in locs:
        s = "%.*f" % (sig, t)
        if float(s) == 0:
            s = s.lstrip("-")
        out.append(s.replace("-", "\u2212"))
    return out


def visible(ticks, texts, lo, hi):
    tol = 1e-10 * (hi - lo)
    keep = [(t, s) for t, s in zip(ticks, texts) if lo - tol <= t <= hi + tol]
    return [k[0] for k in keep], [k[1] for k in keep]


axis_common = dict(
    ticks="outside", ticklen=5, tickwidth=1.1, tickcolor="black",
    showgrid=True, gridcolor="#b0b0b0", gridwidth=1.1,
    showline=True, mirror=True, linecolor="black", linewidth=1.1,
    zeroline=False, automargin=False, fixedrange=True,
    tickfont=dict(family=FONT, size=FS, color="black"),
)

fig = go.Figure()
layout = {}
for i, y in enumerate(series):
    r, c = divmod(i, NCOLS)
    k = i + 1
    sfx = "" if k == 1 else str(k)
    xs = list(range(len(y)))
    fig.add_trace(go.Scatter(
        x=xs, y=y, mode="lines",
        line=dict(color=column_colors[c], width=2.08),
        xaxis="x" + sfx, yaxis="y" + sfx, showlegend=False, hoverinfo="skip",
    ))
    x0 = LEFT + c * AXW * (1 + WSPACE)
    ytop = TOP - r * AXH * (1 + HSPACE)

    xmin, xmax = min(xs), max(xs)
    xpad = 0.05 * (xmax - xmin)
    xlo, xhi = xmin - xpad, xmax + xpad
    xt_all = mpl_ticks(xlo, xhi, 8)
    xt, xtt = visible(xt_all, mpl_format(xt_all), xlo, xhi)

    ymin, ymax = min(y), max(y)
    ypad = 0.05 * (ymax - ymin)
    ylo, yhi = ymin - ypad, ymax + ypad
    yt_all = mpl_ticks(ylo, yhi, 3)
    yt, ytt = visible(yt_all, mpl_format(yt_all), ylo, yhi)

    layout["xaxis" + sfx] = dict(
        axis_common, domain=[x0, x0 + AXW], anchor="y" + sfx,
        range=[xlo, xhi], tickmode="array", tickvals=xt, ticktext=xtt,
    )
    layout["yaxis" + sfx] = dict(
        axis_common, domain=[ytop - AXH, ytop], anchor="x" + sfx,
        range=[ylo, yhi], tickmode="array", tickvals=yt, ticktext=ytt,
        title=dict(text=labels[i], font=dict(family=FONT, size=FS, color="black"), standoff=6),
    )

fig.update_layout(
    width=W, height=H,
    margin=dict(l=0, r=0, t=0, b=0),
    paper_bgcolor="white", plot_bgcolor="white",
    showlegend=False,
    font=dict(family=FONT, size=FS, color="black"),
    **layout,
)

fig.write_html("out.html", config={"displayModeBar": False})
